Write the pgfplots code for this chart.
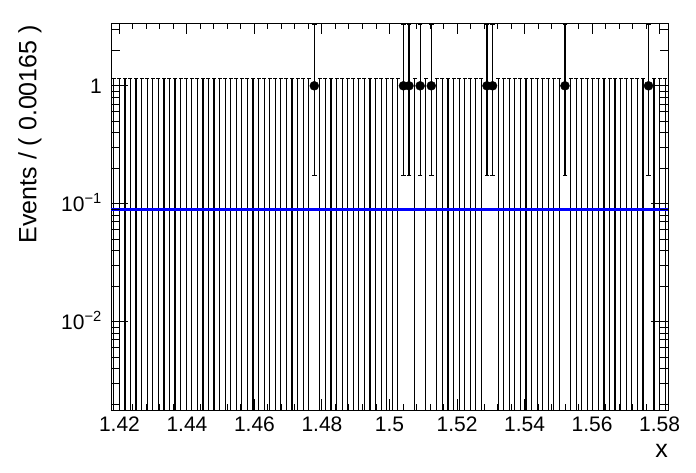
\documentclass[border=0pt]{standalone}
\usepackage{fontspec}
\setmainfont{Liberation Sans}
\usepackage{pgfplots}
\pgfplotsset{compat=1.18}
\usepackage{pgfplotstable}

% empty bins: upper Poisson error 1.1478, bar runs down out of the plot
\pgfplotstableread{
x y ey
1.418325 1.1478 1.1477
1.419975 1.1478 1.1477
1.421625 1.1478 1.1477
1.423275 1.1478 1.1477
1.424925 1.1478 1.1477
1.426575 1.1478 1.1477
1.428225 1.1478 1.1477
1.429875 1.1478 1.1477
1.431525 1.1478 1.1477
1.433175 1.1478 1.1477
1.434825 1.1478 1.1477
1.436475 1.1478 1.1477
1.438125 1.1478 1.1477
1.439775 1.1478 1.1477
1.441425 1.1478 1.1477
1.443075 1.1478 1.1477
1.444725 1.1478 1.1477
1.446375 1.1478 1.1477
1.448025 1.1478 1.1477
1.449675 1.1478 1.1477
1.451325 1.1478 1.1477
1.452975 1.1478 1.1477
1.454625 1.1478 1.1477
1.456275 1.1478 1.1477
1.457925 1.1478 1.1477
1.459575 1.1478 1.1477
1.461225 1.1478 1.1477
1.462875 1.1478 1.1477
1.464525 1.1478 1.1477
1.466175 1.1478 1.1477
1.467825 1.1478 1.1477
1.469475 1.1478 1.1477
1.471125 1.1478 1.1477
1.472775 1.1478 1.1477
1.474425 1.1478 1.1477
1.476075 1.1478 1.1477
1.479375 1.1478 1.1477
1.481025 1.1478 1.1477
1.482675 1.1478 1.1477
1.484325 1.1478 1.1477
1.485975 1.1478 1.1477
1.487625 1.1478 1.1477
1.489275 1.1478 1.1477
1.490925 1.1478 1.1477
1.492575 1.1478 1.1477
1.494225 1.1478 1.1477
1.495875 1.1478 1.1477
1.497525 1.1478 1.1477
1.499175 1.1478 1.1477
1.500825 1.1478 1.1477
1.502475 1.1478 1.1477
1.507425 1.1478 1.1477
1.510725 1.1478 1.1477
1.514025 1.1478 1.1477
1.515675 1.1478 1.1477
1.517325 1.1478 1.1477
1.518975 1.1478 1.1477
1.520625 1.1478 1.1477
1.522275 1.1478 1.1477
1.523925 1.1478 1.1477
1.525575 1.1478 1.1477
1.527225 1.1478 1.1477
1.532175 1.1478 1.1477
1.533825 1.1478 1.1477
1.535475 1.1478 1.1477
1.537125 1.1478 1.1477
1.538775 1.1478 1.1477
1.540425 1.1478 1.1477
1.542075 1.1478 1.1477
1.543725 1.1478 1.1477
1.545375 1.1478 1.1477
1.547025 1.1478 1.1477
1.548675 1.1478 1.1477
1.550325 1.1478 1.1477
1.553625 1.1478 1.1477
1.555275 1.1478 1.1477
1.556925 1.1478 1.1477
1.558575 1.1478 1.1477
1.560225 1.1478 1.1477
1.561875 1.1478 1.1477
1.563525 1.1478 1.1477
1.565175 1.1478 1.1477
1.566825 1.1478 1.1477
1.568475 1.1478 1.1477
1.570125 1.1478 1.1477
1.571775 1.1478 1.1477
1.573425 1.1478 1.1477
1.575075 1.1478 1.1477
1.578375 1.1478 1.1477
1.580025 1.1478 1.1477
1.581675 1.1478 1.1477
}\zerobins

% bins with one event: value, upper and lower Poisson errors, and the bar ends
\pgfplotstableread{
x y eyp eym hi lo
1.477725 1 2.2994 0.8274 3.2994 0.1726
1.504125 1 2.2994 0.8274 3.2994 0.1726
1.505775 1 2.2994 0.8274 3.2994 0.1726
1.509075 1 2.2994 0.8274 3.2994 0.1726
1.512375 1 2.2994 0.8274 3.2994 0.1726
1.528875 1 2.2994 0.8274 3.2994 0.1726
1.530525 1 2.2994 0.8274 3.2994 0.1726
1.551975 1 2.2994 0.8274 3.2994 0.1726
1.576725 1 2.2994 0.8274 3.2994 0.1726
}\databins

\begin{document}
\begin{tikzpicture}
\path[use as bounding box] (0pt,0pt) rectangle (696pt,472pt);
\begin{axis}[
  at={(111pt,62pt)}, anchor=south west,
  scale only axis, width=557pt, height=387pt,
  xmin=1.4175, xmax=1.5825,
  ymode=log, ymin=0.00178, ymax=3.41,
  tick align=inside,
  tick style={black, line width=1pt},
  axis line style={line width=1pt},
  xtick={1.42,1.44,1.46,1.48,1.5,1.52,1.54,1.56,1.58},
  xticklabels={1.42,1.44,1.46,1.48,1.5,1.52,1.54,1.56,1.58},
  minor x tick num=4,
  ytick=\empty,
  xtick pos=both, xticklabel pos=lower,
  major tick length=11pt, minor tick length=6pt,
  xticklabel style={font=\fontsize{21}{25}\selectfont, anchor=center, yshift=-14.5pt},
  xlabel={x},
  xlabel style={font=\fontsize{25}{29}\selectfont, at={(axis description cs:1,-0.106)}, anchor=east, inner sep=0pt},
  ylabel={Events / ( 0.00165 )},
  ylabel style={font=\fontsize{25}{29}\selectfont, at={(axis description cs:-0.1454,0.995)}, anchor=east, inner sep=0pt},
]
% empty bins
\addplot[black, only marks, mark=-, mark size=2pt, mark options={line width=1.2pt},
  error bars/.cd, y dir=minus, y explicit, error mark=none,
  error bar style={line width=1.2pt, black}]
  table[x=x, y=y, y error=ey] {\zerobins};
% filled bins: bars
\addplot[black, only marks, mark=*, mark size=4.5pt,
  error bars/.cd, y dir=both, y explicit, error mark=none,
  error bar style={line width=1.2pt, black}]
  table[x=x, y=y, y error plus=eyp, y error minus=eym] {\databins};
% end caps of the bars
\addplot[black, only marks, mark=-, mark size=2.3pt, mark options={line width=1.2pt}]
  table[x=x, y=hi] {\databins};
\addplot[black, only marks, mark=-, mark size=2.3pt, mark options={line width=1.2pt}]
  table[x=x, y=lo] {\databins};
% flat model
\addplot[draw={rgb,255:red,0;green,0;blue,255}, line width=3pt] coordinates {(1.4175,0.09) (1.5825,0.09)};
\end{axis}
\begin{axis}[
  at={(111pt,62pt)}, anchor=south west,
  scale only axis, width=557pt, height=387pt,
  xmin=1.4175, xmax=1.5825,
  ymode=log, ymin=0.00178, ymax=3.41,
  tick align=inside,
  tick style={black, line width=1pt},
  axis line style={draw=none},
  xtick=\empty,
  ytick={0.01,0.1,1},
  yticklabels={10\textsuperscript{−2},10\textsuperscript{−1},1},
  minor ytick={0.002,0.003,0.004,0.005,0.006,0.007,0.008,0.009,0.02,0.03,0.04,0.05,0.06,0.07,0.08,0.09,0.2,0.3,0.4,0.5,0.6,0.7,0.8,0.9,2,3},
  ytick pos=both, yticklabel pos=left,
  major tick length=17pt, minor tick length=8.5pt,
  yticklabel style={font=\fontsize{21}{25}\selectfont, anchor=base east, inner sep=0pt, xshift=-9pt, yshift=-7.5pt},
]
\end{axis}
\end{tikzpicture}
\end{document}
